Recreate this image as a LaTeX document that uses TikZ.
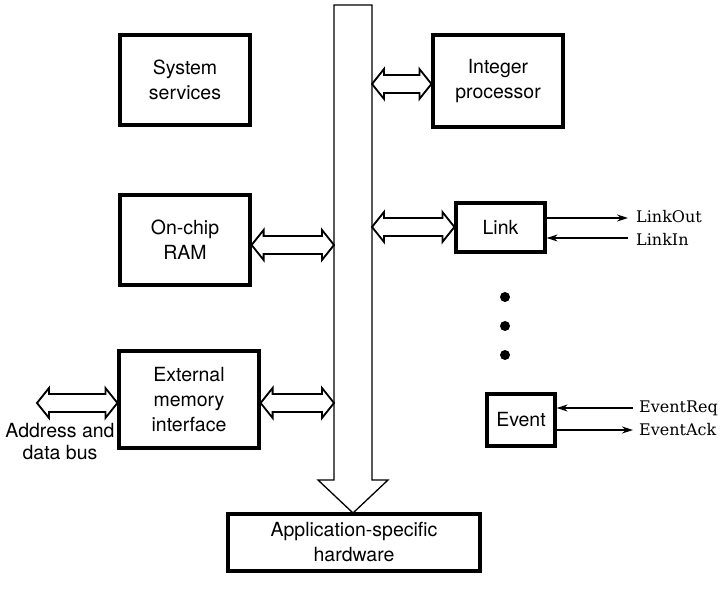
\documentclass[tikz,border=0pt]{standalone}
\usepackage{fontspec}
\setmainfont{TeX Gyre Heros}
\newfontfamily\sigfont{DejaVu Serif}
\usetikzlibrary{calc,arrows.meta}

\tikzset{
  unit/.style={draw, line width=3.2pt, align=center, inner sep=0pt,
    font=\fontsize{19.5}{25}\selectfont},
  busarrow/.style={draw, line width=1.8pt, line join=miter, fill=white},
  sig/.style={-{Stealth[length=11pt,width=7pt]}, line width=1.4pt},
  siglabel/.style={anchor=west, inner sep=0pt, font=\sigfont\fontsize{16}{18}\selectfont},
  dot/.style={circle, fill=black, inner sep=0pt, minimum size=10pt}
}

% hollow double-headed bus arrow from the point #1 to the point #2 at height #3
\newcommand\hbus[3]{%
  \path[busarrow] let \p1=(#1), \p2=(#2) in
    (\x1,#3pt) -- (\x1+12pt,#3pt+15pt) -- (\x1+12pt,#3pt+9pt)
    -- (\x2-12pt,#3pt+9pt) -- (\x2-12pt,#3pt+15pt) -- (\x2,#3pt)
    -- (\x2-12pt,#3pt-15pt) -- (\x2-12pt,#3pt-9pt)
    -- (\x1+12pt,#3pt-9pt) -- (\x1+12pt,#3pt-15pt) -- cycle;}

\begin{document}
\begin{tikzpicture}[x=1pt,y=1pt]
\useasboundingbox (0,0) rectangle (723,600);

% functional units
\node[unit, minimum width=130pt, minimum height=90pt] (sys)  at (185,520) {System\\services};
\node[unit, minimum width=130pt, minimum height=92pt] (intp) at (498,519) {Integer\\processor};
\node[unit, minimum width=130pt, minimum height=90pt] (ram)  at (185,360) {On-chip\\RAM};
\node[unit, minimum width=89pt,  minimum height=49pt] (link) at (500.5,372.5) {Link};
\node[unit, minimum width=140pt, minimum height=97pt] (emi)  at (189,200.5) {External\\memory\\interface};
\node[unit, minimum width=68pt,  minimum height=52pt] (event) at (521,180) {Event};
\node[unit, minimum width=252pt, minimum height=57pt] (app)  at (354,57.5) {Application-specific\\hardware};

% internal bus with its arrowhead onto the application hardware
\coordinate (busL) at (334,300);
\coordinate (busR) at (372,300);
\draw[line width=1.3pt, fill=white, line join=miter]
  (334,595) -- (372,595) -- (372,120) -- (388,120) -- (353,87) -- (318,120) -- (334,120) -- cycle;

% bus connections
\hbus{busR}{intp.west}{516}
\hbus{ram.east}{busL}{355}
\hbus{busR}{link.west}{373}
\hbus{emi.east}{busL}{197}
\coordinate (extbus) at (37,197);
\hbus{extbus}{emi.west}{197}
\node[align=center, inner sep=0pt, font=\fontsize{19.5}{22}\selectfont] (extlabel) at (60,158) {Address and\\data bus};

% link signals
\coordinate (lo) at (628,382);
\coordinate (li) at (628,362);
\draw[sig] (link.east |- lo) -- (lo);
\draw[sig] (li) -- (link.east |- li);
\node[siglabel] (lotext) at (636,383) {LinkOut};
\node[siglabel] (litext) at (636,361) {LinkIn};

% further links
\node[dot] (d1) at (505,303) {};
\node[dot] (d2) at (505,274) {};
\node[dot] (d3) at (505,245) {};

% event signals
\coordinate (er) at (633,192);
\coordinate (ea) at (633,170);
\draw[sig] (er) -- (event.east |- er);
\draw[sig] (event.east |- ea) -- (ea);
\node[siglabel] (ertext) at (639,192) {EventReq};
\node[siglabel] (eatext) at (639,170) {EventAck};
\end{tikzpicture}
\end{document}
